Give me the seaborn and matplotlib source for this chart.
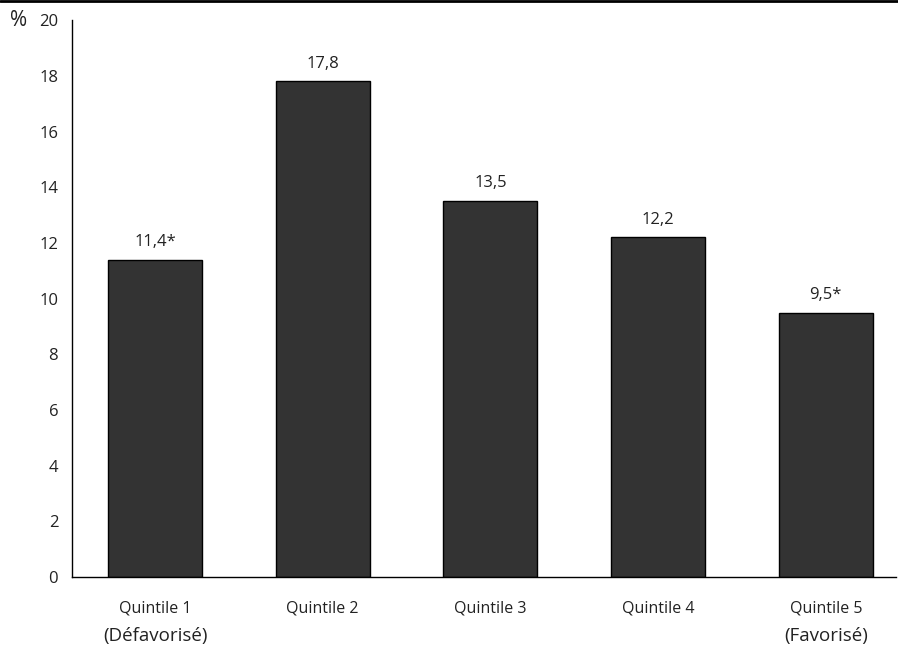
import matplotlib
matplotlib.use("Agg")
import matplotlib.pyplot as plt
from matplotlib.lines import Line2D
import seaborn as sns
import pandas as pd

categories = ["Quintile 1", "Quintile 2", "Quintile 3", "Quintile 4", "Quintile 5"]
values = [11.4, 17.8, 13.5, 12.2, 9.5]
value_labels = ["11,4*", "17,8", "13,5", "12,2", "9,5*"]
sub_labels = ["(Défavorisé)", "", "", "", "(Favorisé)"]
y_ticks = [0, 2, 4, 6, 8, 10, 12, 14, 16, 18, 20]

sns.set_theme(style="white")
plt.rcParams["font.family"] = ["Open Sans", "DejaVu Sans"]

df = pd.DataFrame({"quintile": categories, "pct": values})

fig = plt.figure(figsize=(8.98, 6.52), dpi=100)
ax = fig.add_axes([0.0802, 0.115, 0.9178, 0.854])

sns.barplot(data=df, x="quintile", y="pct", color="#333333", width=0.56,
            edgecolor="#000000", linewidth=1.0, saturation=1, ax=ax)

ax.set_ylim(0, 20)
ax.set_xlim(-0.495, 4.42)
ax.set_yticks(y_ticks)
ax.set_yticklabels([str(t) for t in y_ticks], fontsize=12, color="#222222")
ax.set_xticks(range(len(categories)))
ax.set_xticklabels(categories, fontsize=11.5, color="#222222")
ax.tick_params(axis="y", length=0, pad=10)
ax.tick_params(axis="x", length=0, pad=17)
ax.set_xlabel("")
ax.set_ylabel("")

for s in ["top", "right"]:
    ax.spines[s].set_visible(False)
for s in ["left", "bottom"]:
    ax.spines[s].set_color("#000000")
    ax.spines[s].set_linewidth(1.0)

for i, (v, lab) in enumerate(zip(values, value_labels)):
    ax.annotate(lab, (i, v), xytext=(0, 7), textcoords="offset points",
                ha="center", va="bottom", fontsize=12, color="#222222")

for i, sub in enumerate(sub_labels):
    if sub:
        ax.annotate(sub, (i, 0), xycoords=("data", "axes fraction"),
                    xytext=(0, -42.5), textcoords="offset points",
                    ha="center", va="center", fontsize=13.5, color="#222222")

fig.text(0.011, 0.969, "%", fontsize=15, ha="left", va="center", color="#222222")

fig.add_artist(Line2D([0, 1], [0.998, 0.998], transform=fig.transFigure,
                      color="#000000", linewidth=2))

fig.savefig("out.png", dpi=100)
